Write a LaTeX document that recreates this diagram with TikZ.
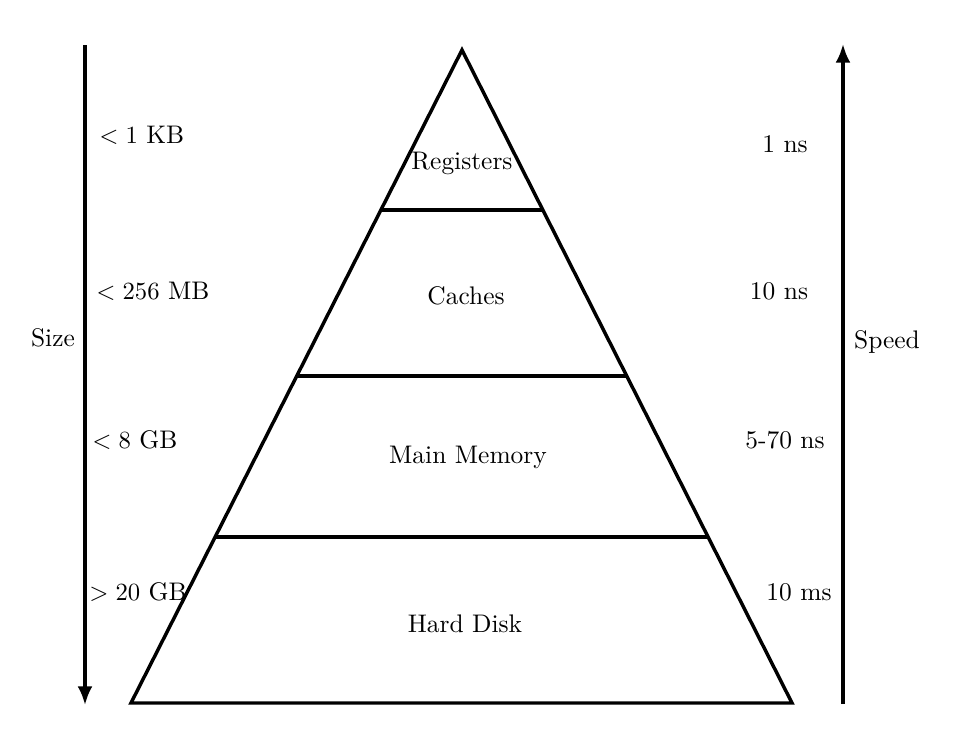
\documentclass[tikz,border=0pt]{standalone}
\usetikzlibrary{arrows.meta,calc}
\begin{document}
\begin{tikzpicture}[x=0.4049pt,y=-0.4049pt,
  edge/.style={line width=1.4pt,line join=miter},
  axis/.style={line width=1.3pt,-{Latex[length=7.5pt,width=6pt]}},
  lbl/.style={inner sep=0pt,font=\fontsize{10.3}{12}\selectfont},
  lev/.style={inner sep=0pt,font=\fontsize{10.3}{12}\selectfont}]
\useasboundingbox (0,0) rectangle (962,730);
% pyramid
\coordinate (apex) at (462,50);
\coordinate (bl) at (131,703);
\coordinate (br) at (792,703);
\draw[edge] (apex) -- (bl) -- (br) -- cycle;
\coordinate (l1) at ($(apex)!0.245!(bl)$);
\coordinate (r1) at ($(apex)!0.245!(br)$);
\coordinate (l2) at ($(apex)!0.4992!(bl)$);
\coordinate (r2) at ($(apex)!0.4992!(br)$);
\coordinate (l3) at ($(apex)!0.7458!(bl)$);
\coordinate (r3) at ($(apex)!0.7458!(br)$);
\draw[edge] (l1) -- (r1);
\draw[edge] (l2) -- (r2);
\draw[edge] (l3) -- (r3);
\node[lev] (reg) at (462,163) {Registers};
\node[lev] (cac) at (466,296) {Caches};
\node[lev] (mm) at (468,457) {Main Memory};
\node[lev] (hd) at (465,624) {Hard Disk};
% size axis
\coordinate (s0) at (85,45);
\coordinate (s1) at (85,705);
\draw[axis] (s0) -- (s1);
\node[lbl] (size) at (53,338) {Size};
\node[lbl,anchor=west] (z1) at (99,135) {$<1$ KB};
\node[lbl,anchor=west] (z2) at (96,291) {$<256$ MB};
\node[lbl,anchor=west] (z3) at (92,440) {$<8$ GB};
\node[lbl,anchor=west] (z4) at (89,592) {$>20$ GB};
% speed axis
\coordinate (p0) at (843,704);
\coordinate (p1) at (843,44);
\draw[axis] (p0) -- (p1);
\node[lbl] (speed) at (887,342) {Speed};
\node[lbl] (t1) at (785,144) {1 ns};
\node[lbl] (t2) at (779,291) {10 ns};
\node[lbl] (t3) at (785,440) {5-70 ns};
\node[lbl] (t4) at (799,592) {10 ms};
\end{tikzpicture}
\end{document}
